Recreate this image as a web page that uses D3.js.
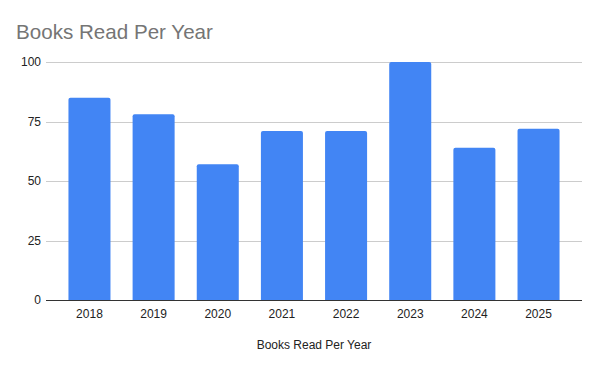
<!DOCTYPE html>
<html>
<head>
<meta charset="utf-8">
<script src="https://cdn.jsdelivr.net/npm/d3@7"></script>
<style>
  body { margin: 0; background: #fff; }
  svg { display: block; }
</style>
</head>
<body>
<div id="chart"></div>
<script>
const years = ["2018", "2019", "2020", "2021", "2022", "2023", "2024", "2025"];
const booksRead = [85, 78, 57, 71, 71, 100, 64, 72];
const yTicks = [0, 25, 50, 75, 100];

const width = 600, height = 371;
const margin = { top: 62, right: 18, bottom: 71, left: 46 };
const font = "Arial, 'Liberation Sans', sans-serif";

const svg = d3.select("#chart").append("svg")
    .attr("width", width)
    .attr("height", height);

const x = d3.scaleBand()
    .domain(years)
    .range([margin.left, width - margin.right])
    .paddingInner(0.345)
    .paddingOuter(0.35);

const y = d3.scaleLinear()
    .domain([0, 100])
    .range([height - margin.bottom, margin.top]);

// title
svg.append("text")
    .attr("x", 16)
    .attr("y", 39)
    .attr("font-family", font)
    .attr("font-size", 20.6)
    .attr("fill", "#757575")
    .text("Books Read Per Year");

// gridlines
svg.append("g")
    .selectAll("line")
    .data(yTicks.filter(d => d !== 0))
    .enter().append("line")
    .attr("x1", margin.left)
    .attr("x2", width - margin.right)
    .attr("y1", d => Math.round(y(d)) + 0.5)
    .attr("y2", d => Math.round(y(d)) + 0.5)
    .attr("stroke", "#cccccc")
    .attr("stroke-width", 1);

// y axis labels
const yAxis = svg.append("g")
    .attr("transform", `translate(${margin.left - 5},0)`)
    .call(d3.axisLeft(y).tickValues(yTicks).tickSize(0).tickPadding(0));
yAxis.select(".domain").remove();
yAxis.selectAll("text")
    .attr("font-family", font)
    .attr("font-size", 12)
    .attr("fill", "#222");

// bars, slightly rounded tops
const r = 2;
svg.append("g")
    .selectAll("path")
    .data(years.map((yr, i) => ({ year: yr, value: booksRead[i] })))
    .enter().append("path")
    .attr("fill", "#4285f4")
    .attr("d", d => {
        const x0 = x(d.year), x1 = x0 + x.bandwidth();
        const y0 = y(0), y1 = y(d.value);
        return `M${x0},${y0}V${y1 + r}Q${x0},${y1} ${x0 + r},${y1}H${x1 - r}Q${x1},${y1} ${x1},${y1 + r}V${y0}Z`;
    });

// x axis
const xAxis = svg.append("g")
    .attr("transform", `translate(0,${y(0)})`)
    .call(d3.axisBottom(x).tickSize(0).tickPadding(9));
xAxis.select(".domain")
    .attr("stroke", "#333")
    .attr("d", `M${margin.left},0.5H${width - margin.right}`);
xAxis.selectAll("text")
    .attr("font-family", font)
    .attr("font-size", 12)
    .attr("fill", "#222");

// x axis title
svg.append("text")
    .attr("x", (margin.left + width - margin.right) / 2)
    .attr("y", 349)
    .attr("text-anchor", "middle")
    .attr("font-family", font)
    .attr("font-size", 12)
    .attr("fill", "#222")
    .text("Books Read Per Year");
</script>
</body>
</html>
